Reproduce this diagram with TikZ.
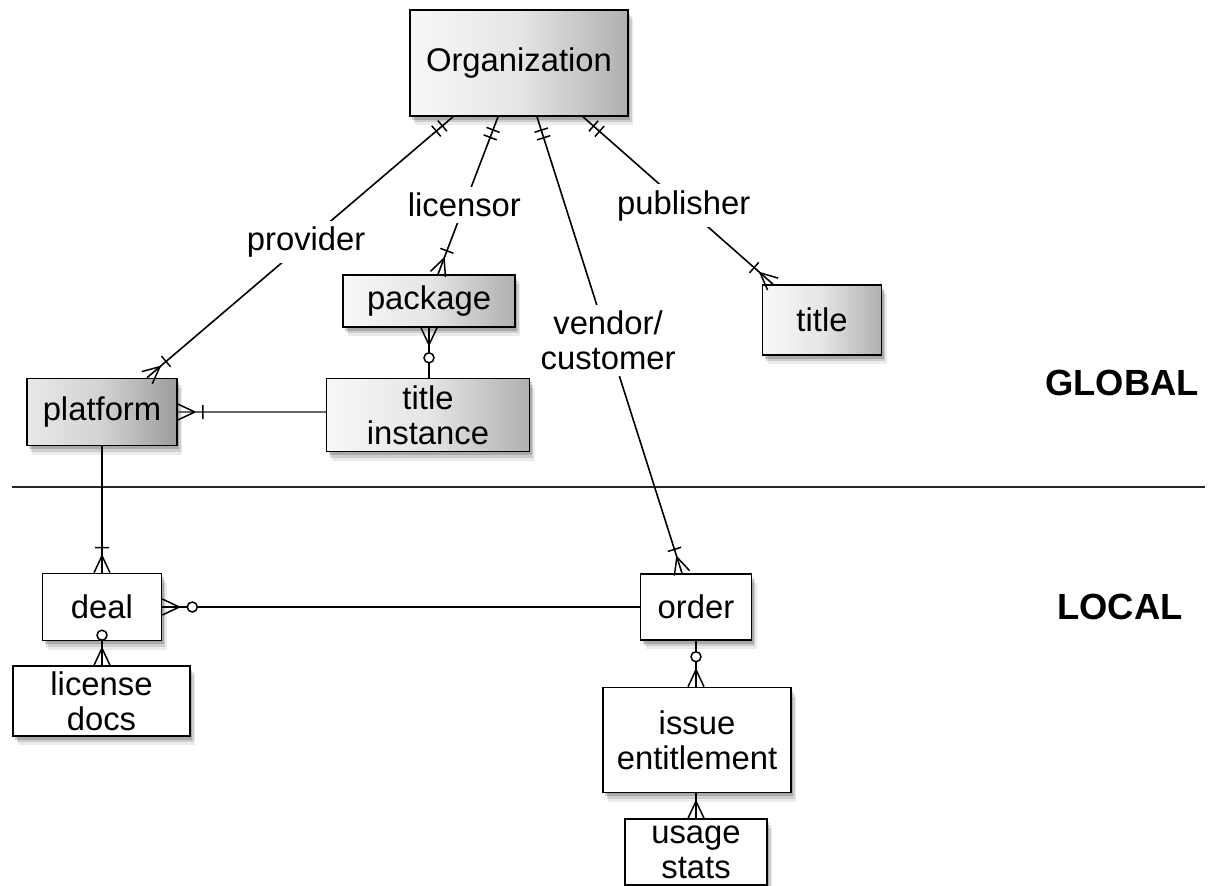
\documentclass[tikz,border=0pt]{standalone}
\usepackage{fontspec}
\setmainfont{Liberation Sans}
\usetikzlibrary{calc,shadows,decorations.markings}

\tikzset{
  txt/.style={font=\fontsize{16.4}{17.5}\selectfont},
  ent/.style={txt, draw=black, line width=0.8pt, inner sep=0pt, align=center,
    drop shadow={shadow xshift=2.5pt, shadow yshift=-4.5pt, opacity=0.08, fill=black},
    drop shadow={shadow xshift=1.8pt, shadow yshift=-3.2pt, opacity=0.12, fill=black},
    drop shadow={shadow xshift=1pt, shadow yshift=-1.8pt, opacity=0.18, fill=black}},
  glob/.style={ent, left color=gray!6, right color=gray!62, middle color=gray!20},
  globdark/.style={ent, left color=gray!18, right color=gray!78, middle color=gray!35},
  loc/.style={ent, fill=white},
  conn/.style={line width=0.8pt, draw=black},
  lbl/.style={txt, fill=white, inner sep=3pt, align=center},
  zone/.style={font=\bfseries\fontsize{18.2}{20}\selectfont},
  mk/.style={line width=0.75pt, draw=black},
  twobar start/.style={postaction={decorate, decoration={markings,
    mark=at position 0 with {\draw[mk] (7pt,-3.5pt)--(7pt,3.5pt) (11pt,-3.5pt)--(11pt,3.5pt);}}}},
  crowbar end/.style={postaction={decorate, decoration={markings,
    mark=at position 1 with {\draw[mk] (-8.5pt,0)--(0,4pt) (-8.5pt,0)--(0,-4pt) (-12.5pt,-3.5pt)--(-12.5pt,3.5pt);}}}},
  crowcirc end/.style={postaction={decorate, decoration={markings,
    mark=at position 1 with {\draw[mk] (-8.5pt,0)--(0,4pt) (-8.5pt,0)--(0,-4pt); \draw[mk,fill=white] (-15pt,0) circle (2.5pt);}}}},
  crow end/.style={postaction={decorate, decoration={markings,
    mark=at position 1 with {\draw[mk] (-8.5pt,0)--(0,4pt) (-8.5pt,0)--(0,-4pt);}}}},
}

\begin{document}
\begin{tikzpicture}[x=0.5pt, y=-0.5pt]
\useasboundingbox (0,0) rectangle (1218,885);
\clip (0,0) rectangle (1218,885);

% GLOBAL entities
\node[glob, minimum width=109pt, minimum height=53pt] (org) at (519,63) {Organization};
\node[glob, minimum width=86pt, minimum height=26pt] (package) at (429,301) {package};
\node[glob, minimum width=101.5pt, minimum height=36.5pt] (tinst) at (428,415) {title\\instance};
\node[globdark, minimum width=75pt, minimum height=33.5pt] (platform) at (102,412) {platform};
\node[glob, minimum width=59.5pt, minimum height=35pt] (title) at (822,320) {title};

% LOCAL entities
\node[loc, minimum width=59.5pt, minimum height=33.5pt] (deal) at (102,607) {deal};
\node[loc, minimum width=88.5pt, minimum height=35pt] (lic) at (101.5,701) {license\\docs};
\node[loc, minimum width=55.5pt, minimum height=33pt] (order) at (696,607) {order};
\node[loc, minimum width=94pt, minimum height=52.5pt] (issue) at (697,740) {issue\\entitlement};
\node[loc, minimum width=71pt, minimum height=33pt] (usage) at (696,852) {usage\\stats};

% zone labels and divider
\node[zone] (global) at (1122,383) {GLOBAL};
\node[zone] (local) at (1120,607) {LOCAL};
\coordinate (dl) at (12,487);
\coordinate (dr) at (1205,487);
\draw[line width=0.9pt, black!85] (dl) -- (dr);

% relationships from Organization
\draw[conn, twobar start, crowbar end] ($(org.south)+(-66,0)$) -- node[lbl, pos=0.48] {provider} ($(platform.north)+(45,0)$);
\draw[conn, twobar start, crowbar end] ($(org.south)+(-21,0)$) -- node[lbl, pos=0.56] {licensor} ($(package.north)+(9,0)$);
\draw[conn, twobar start, crowbar end] ($(org.south)+(18,0)$) -- node[lbl, pos=0.49] {vendor/\\customer} ($(order.north)+(-14,0)$);
\draw[conn, twobar start, crowbar end] ($(org.south)+(64,0)$) -- node[lbl, pos=0.53] {publisher} ($(title.north)+(-49,0)$);

% other relationships
\draw[conn, crowcirc end] (package.south |- tinst.north) -- (package.south);
\draw[conn, draw=black!60, crowbar end] (platform.east -| tinst.west) -- (platform.east);
\draw[conn, crowbar end] (platform.south) -- (deal.north);
\draw[conn, crowcirc end] (order.west) -- (deal.east);
\draw[conn, crowcirc end] (deal.south) -- (deal.south |- lic.north);
\draw[conn, crowcirc end] (order.south) -- (order.south |- issue.north);
\draw[conn, crow end] (issue.south -| usage.north) -- (usage.north);
\end{tikzpicture}
\end{document}
